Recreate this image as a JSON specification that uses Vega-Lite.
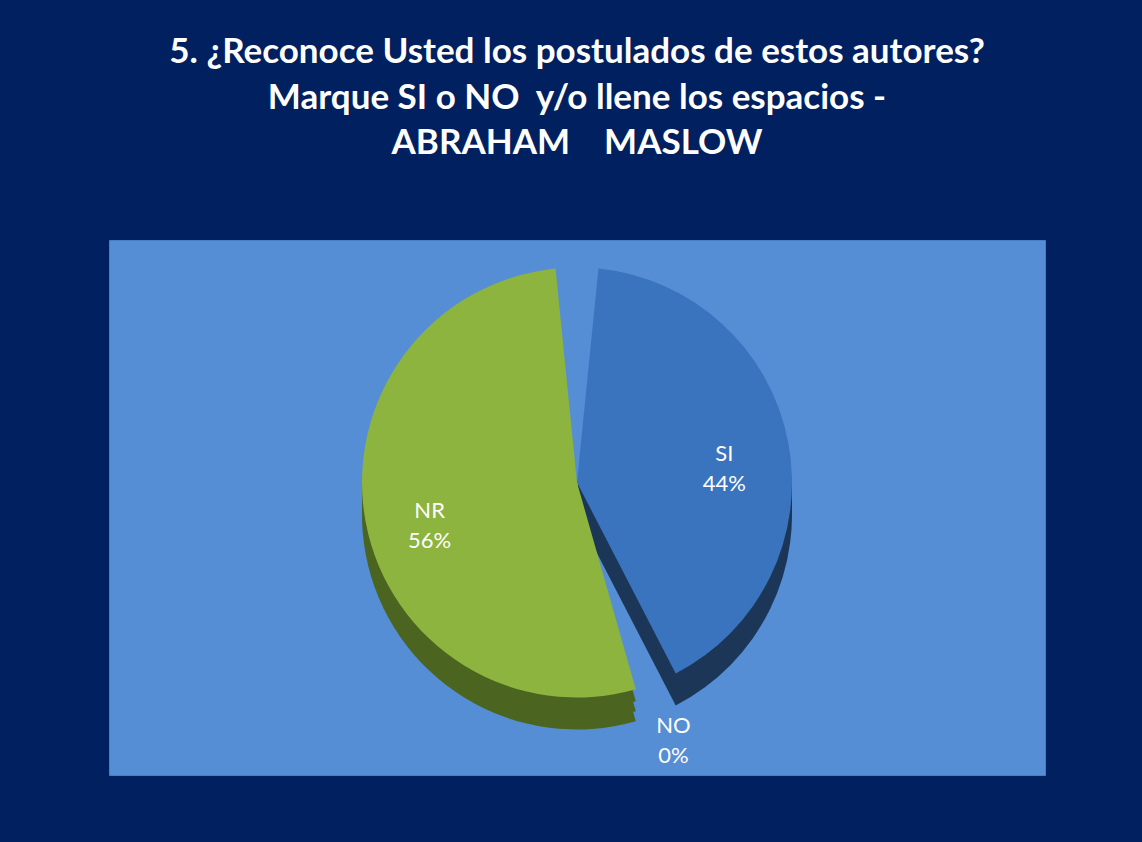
{
  "$schema": "https://vega.github.io/schema/vega-lite/v6.json",
  "width": 936,
  "height": 535,
  "autosize": {"type": "none"},
  "padding": {"left": 109, "top": 240, "right": 97, "bottom": 67},
  "background": "#002060",
  "view": {"fill": "#558ED5", "stroke": "#4A7CC0", "strokeWidth": 1},
  "title": {
    "text": ["5. ¿Reconoce Usted los postulados de estos autores?", "Marque SI o NO \u00a0y/o llene los espacios -", "ABRAHAM \u00a0 \u00a0MASLOW"],
    "font": "Lato",
    "fontSize": 35,
    "fontWeight": "bold",
    "color": "white",
    "lineHeight": 45.5,
    "anchor": "middle",
    "offset": 79
  },
  "data": {
    "values": [
      {"cat": "SI", "pct": 44, "ord": 1, "label": "SI\n44%"},
      {"cat": "NO", "pct": 0, "ord": 2, "label": "NO\n0%"},
      {"cat": "NR", "pct": 56, "ord": 3, "label": "NR\n56%"}
    ]
  },
  "encoding": {
    "theta": {"field": "pct", "type": "quantitative", "stack": true},
    "order": {"field": "ord", "type": "quantitative"}
  },
  "layer": [
    {
      "mark": {"type": "arc", "outerRadius": 215, "padAngle": 0.2, "yOffset": 7},
      "encoding": {
        "color": {"field": "cat", "type": "nominal", "legend": null,
          "scale": {"domain": ["SI", "NO", "NR"], "range": ["#1C3658", "#5C1414", "#4B6521"]}}
      }
    },
    {
      "mark": {"type": "arc", "outerRadius": 215, "padAngle": 0.2, "yOffset": -3},
      "encoding": {
        "color": {"field": "cat", "type": "nominal", "legend": null,
          "scale": {"domain": ["SI", "NO", "NR"], "range": ["#1C3658", "#5C1414", "#4B6521"]}}
      }
    },
    {
      "mark": {"type": "arc", "outerRadius": 215, "padAngle": 0.2, "yOffset": -13},
      "encoding": {
        "color": {"field": "cat", "type": "nominal", "legend": null,
          "scale": {"domain": ["SI", "NO", "NR"], "range": ["#1C3658", "#5C1414", "#4B6521"]}}
      }
    },
    {
      "mark": {"type": "arc", "outerRadius": 215, "padAngle": 0.2, "yOffset": -25},
      "encoding": {
        "color": {"field": "cat", "type": "nominal", "legend": null,
          "scale": {"domain": ["SI", "NO", "NR"], "range": ["#3A73BE", "#7A1E1E", "#8DB43E"]}}
      }
    },
    {
      "mark": {"type": "text", "radius": 150, "yOffset": -25, "font": "Lato", "fontSize": 22, "color": "white", "lineBreak": "\n", "lineHeight": 30},
      "encoding": {"text": {"condition": {"test": "datum.cat != 'NO'", "field": "label"}, "value": ""}}
    },
    {
      "mark": {"type": "text", "radius": 262, "yOffset": -25, "font": "Lato", "fontSize": 22, "color": "white", "lineBreak": "\n", "lineHeight": 30},
      "encoding": {"text": {"condition": {"test": "datum.cat == 'NO'", "field": "label"}, "value": ""}}
    }
  ],
  "resolve": {"scale": {"color": "independent"}}
}
